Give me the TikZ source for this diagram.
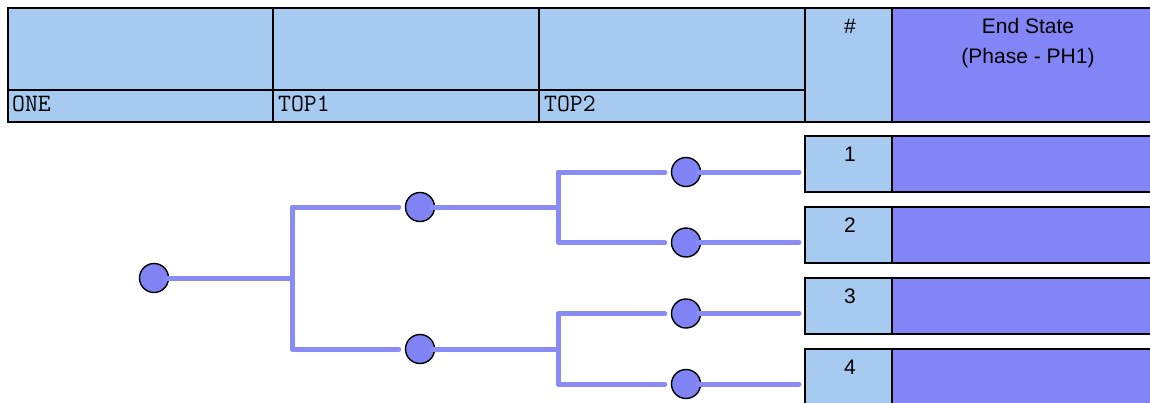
\documentclass[tikz,border=0pt]{standalone}
\usepackage{fontspec}
\setmainfont{Liberation Sans}
\definecolor{cellblue}{HTML}{A6CAF0}
\definecolor{endpurple}{HTML}{8285F5}
\definecolor{branchcol}{HTML}{8A8CF5}
\definecolor{nodecol}{HTML}{8083F3}
\begin{document}
\begin{tikzpicture}[x=1pt,y=-1pt,
  cell/.style={draw=black, line width=1.8pt, fill=cellblue, inner sep=0pt, outer sep=0pt},
  endcell/.style={draw=black, line width=1.8pt, fill=endpurple, inner sep=0pt, outer sep=0pt},
  evtxt/.style={font=\ttfamily\fontsize{25}{28}\selectfont, anchor=base west, inner sep=0pt},
  hdtxt/.style={font=\fontsize{21}{24}\selectfont, anchor=base, inner sep=0pt},
  state/.style={circle, draw=black, line width=1.4pt, fill=nodecol, minimum size=29pt, inner sep=0pt},
  branch/.style={draw=branchcol, line width=5pt, line cap=round, line join=round}]
\useasboundingbox (0,0) rectangle (1150,402);

% column heads
\node[cell, minimum width=265pt, minimum height=82pt] (e1) at (140.5,49) {};
\node[cell, minimum width=265pt, minimum height=32pt] (e1l) at (140.5,106) {};
\node[cell, minimum width=266pt, minimum height=82pt] (e2) at (406,49) {};
\node[cell, minimum width=266pt, minimum height=32pt] (e2l) at (406,106) {};
\node[cell, minimum width=266pt, minimum height=82pt] (e3) at (672,49) {};
\node[cell, minimum width=266pt, minimum height=32pt] (e3l) at (672,106) {};
\node[cell, minimum width=87pt, minimum height=114pt] (hash) at (848.5,65) {};
\node[endcell, minimum width=270pt, minimum height=114pt] (endst) at (1027,65) {};

\node[evtxt] (t1) at (12,111) {ONE};
\node[evtxt] (t2) at (278,111) {TOP1};
\node[evtxt] (t3) at (544,111) {TOP2};
\node[hdtxt] (th) at (850,33) {\#};
\node[hdtxt] (te1) at (1028,33) {End State};
\node[hdtxt] (te2) at (1028,63) {(Phase - PH1)};

% end state rows
\foreach \k in {1,...,4}{
  \pgfmathsetmacro{\yc}{164+71*(\k-1)}
  \pgfmathsetmacro{\yb}{161+71*(\k-1)}
  \node[cell, minimum width=87pt, minimum height=56pt] (r\k) at (848.5,\yc) {};
  \node[endcell, minimum width=270pt, minimum height=56pt] (s\k) at (1027,\yc) {};
  \node[hdtxt] (n\k) at (850,\yb) {\k};
}

% event tree nodes
\node[state] (c0) at (154,278) {};
\node[state] (c1) at (420,207) {};
\node[state] (c2) at (420,349) {};
\node[state] (c3) at (686,172) {};
\node[state] (c4) at (686,242.5) {};
\node[state] (c5) at (686,313.5) {};
\node[state] (c6) at (686,384) {};

\coordinate (j0) at (292,278);
\coordinate (j1) at (558,207);
\coordinate (j2) at (558,349);

% branches
\draw[branch] ([xshift=-3pt]c0.east) -- (j0);
\draw[branch] ([xshift=-6pt]c1.west) -| (j0) |- ([xshift=-6pt]c2.west);
\draw[branch] ([xshift=-3pt]c1.east) -- (j1);
\draw[branch] ([xshift=-3pt]c2.east) -- (j2);
\draw[branch] ([xshift=-6pt]c3.west) -| (j1) |- ([xshift=-6pt]c4.west);
\draw[branch] ([xshift=-6pt]c5.west) -| (j2) |- ([xshift=-6pt]c6.west);
\draw[branch] ([xshift=-3pt]c3.east) -- ([xshift=-6pt]r1.west |- c3);
\draw[branch] ([xshift=-3pt]c4.east) -- ([xshift=-6pt]r2.west |- c4);
\draw[branch] ([xshift=-3pt]c5.east) -- ([xshift=-6pt]r3.west |- c5);
\draw[branch] ([xshift=-3pt]c6.east) -- ([xshift=-6pt]r4.west |- c6);
\end{tikzpicture}
\end{document}
